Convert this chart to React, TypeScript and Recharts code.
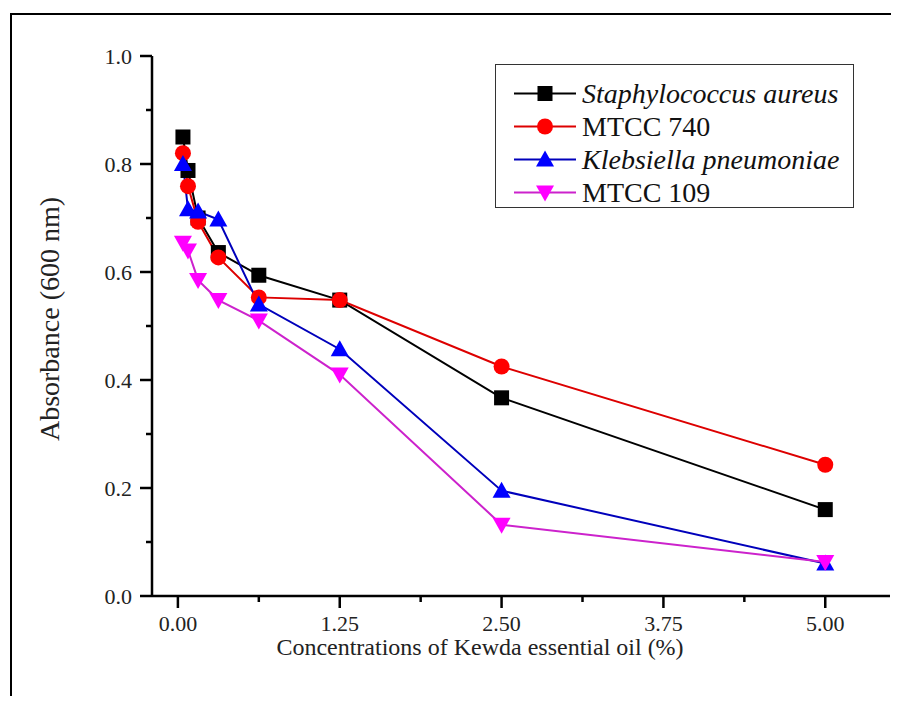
import React from "react";
import { Label, Legend, Line, LineChart, XAxis, YAxis } from "recharts";

const FONT = "Liberation Serif, Times New Roman, Tinos, DejaVu Serif, Noto Serif, serif";

// concentration of Kewda essential oil (%)
const concentrations = [0.039, 0.078, 0.156, 0.3125, 0.625, 1.25, 2.5, 5];
const staphAureus = [0.85, 0.788, 0.7, 0.636, 0.594, 0.548, 0.367, 0.16];
const mtcc740 = [0.82, 0.759, 0.693, 0.627, 0.553, 0.548, 0.425, 0.243];
const klebsiella = [0.8, 0.716, 0.712, 0.697, 0.54, 0.457, 0.195, 0.06];
const mtcc109 = [0.654, 0.64, 0.585, 0.548, 0.51, 0.41, 0.132, 0.063];

const xTicks = [0, 0.625, 1.25, 1.875, 2.5, 3.125, 3.75, 4.375, 5];
const yTicks = [0, 0.1, 0.2, 0.3, 0.4, 0.5, 0.6, 0.7, 0.8, 0.9, 1.0];

const data = concentrations.map((x, i) => ({
  x,
  sa: staphAureus[i],
  m740: mtcc740[i],
  kp: klebsiella[i],
  m109: mtcc109[i],
}));

type Marker = "square" | "circle" | "up" | "down";

const series: { key: string; name: string; italic: boolean; line: string; fill: string; marker: Marker }[] = [
  { key: "sa", name: "Staphylococcus aureus", italic: true, line: "#000000", fill: "#000000", marker: "square" },
  { key: "m740", name: "MTCC 740", italic: false, line: "#dd0000", fill: "#ff0000", marker: "circle" },
  { key: "kp", name: "Klebsiella pneumoniae", italic: true, line: "#0000bb", fill: "#0000ff", marker: "up" },
  { key: "m109", name: "MTCC 109", italic: false, line: "#cc22cc", fill: "#ff00ff", marker: "down" },
];

const drawMarker = (m: Marker, cx: number, cy: number, fill: string, k?: string | number) => {
  if (m === "square") return <rect key={k} x={cx - 7.5} y={cy - 7.5} width={15} height={15} fill={fill} />;
  if (m === "circle") return <circle key={k} cx={cx} cy={cy} r={8} fill={fill} />;
  if (m === "up")
    return <polygon key={k} points={`${cx},${cy - 9} ${cx - 9},${cy + 7} ${cx + 9},${cy + 7}`} fill={fill} />;
  return <polygon key={k} points={`${cx},${cy + 9} ${cx - 9},${cy - 7} ${cx + 9},${cy - 7}`} fill={fill} />;
};

const XTick = (props: any) => {
  const { x, y, payload } = props;
  const v = payload.value;
  const major = Math.abs(v / 1.25 - Math.round(v / 1.25)) < 1e-6;
  return (
    <g>
      <line x1={x} x2={x} y1={y} y2={y + (major ? 12 : 6)} stroke="#000" strokeWidth={2.5} />
      {major && (
        <text x={x} y={y + 35} textAnchor="middle" style={{ fontFamily: FONT, fontSize: 22 }} fill="#222">
          {v.toFixed(2)}
        </text>
      )}
    </g>
  );
};

const YTick = (props: any) => {
  const { x, y, payload } = props;
  const v = payload.value;
  const major = Math.round(v * 10) % 2 === 0;
  return (
    <g>
      <line x1={x - (major ? 12 : 6)} x2={x} y1={y} y2={y} stroke="#000" strokeWidth={2.5} />
      {major && (
        <text x={x - 20} y={y} dy="0.35em" textAnchor="end" style={{ fontFamily: FONT, fontSize: 22 }} fill="#222">
          {v.toFixed(1)}
        </text>
      )}
    </g>
  );
};

const LegendBox = () => (
  <div
    style={{
      width: 359,
      height: 144,
      boxSizing: "border-box",
      border: "1.5px solid #333",
      background: "#fff",
      paddingTop: 12,
      fontFamily: FONT,
      fontSize: 28,
    }}
  >
    {series.map((s) => (
      <div key={s.key} style={{ display: "flex", alignItems: "center", height: 33 }}>
        <svg width={86} height={33} style={{ flex: "none" }}>
          <line x1={18} x2={80} y1={16.5} y2={16.5} stroke={s.line} strokeWidth={2} />
          {drawMarker(s.marker, 49, 16.5, s.fill)}
        </svg>
        <span style={{ fontStyle: s.italic ? "italic" : "normal", color: "#111", whiteSpace: "nowrap" }}>
          {s.name}
        </span>
      </div>
    ))}
  </div>
);

export default function App() {
  return (
    <div style={{ position: "relative", width: 883, height: 688, fontFamily: FONT }}>
      <div
        style={{
          position: "absolute",
          left: 2,
          top: 5,
          width: 881,
          height: 683,
          borderLeft: "2.5px solid #000",
          borderTop: "2.5px solid #000",
          boxSizing: "border-box",
        }}
      />
      <LineChart
        width={883}
        height={688}
        data={data}
        margin={{ top: 48, right: 1, bottom: 40, left: 64 }}
        style={{ position: "relative" }}
      >
        <XAxis
          dataKey="x"
          type="number"
          domain={[-0.2, 5.5]}
          ticks={xTicks}
          interval={0}
          height={60}
          tickSize={0}
          tickMargin={0}
          tick={<XTick />}
          tickLine={false}
          axisLine={{ stroke: "#000", strokeWidth: 2.5 }}
        >
          <Label
            content={(p: any) => {
              const vb = p.viewBox;
              return (
                <text
                  x={vb.x + vb.width / 2 - 41}
                  y={vb.y + 59}
                  textAnchor="middle"
                  style={{ fontFamily: FONT, fontSize: 24 }}
                  fill="#222"
                >
                  Concentrations of Kewda essential oil (%)
                </text>
              );
            }}
          />
        </XAxis>
        <YAxis
          type="number"
          domain={[0, 1]}
          ticks={yTicks}
          interval={0}
          width={80}
          tickSize={0}
          tickMargin={0}
          tick={<YTick />}
          tickLine={false}
          axisLine={{ stroke: "#000", strokeWidth: 2.5 }}
        >
          <Label
            content={() => (
              <text
                x={51}
                y={311}
                transform="rotate(-90 51 311)"
                textAnchor="middle"
                style={{ fontFamily: FONT, fontSize: 28 }}
                fill="#222"
              >
                Absorbance (600 nm)
              </text>
            )}
          />
        </YAxis>
        <Legend
          layout="horizontal"
          verticalAlign="middle"
          align="center"
          wrapperStyle={{ left: 487, top: 56, width: 359, height: 144 }}
          content={<LegendBox />}
        />
        {series.map((s) => (
          <Line
            key={s.key}
            type="linear"
            dataKey={s.key}
            name={s.name}
            stroke={s.line}
            strokeWidth={2}
            dot={(p: any) => drawMarker(s.marker, p.cx, p.cy, s.fill, `${s.key}-${p.index}`)}
            activeDot={false}
            isAnimationActive={false}
          />
        ))}
      </LineChart>
    </div>
  );
}
